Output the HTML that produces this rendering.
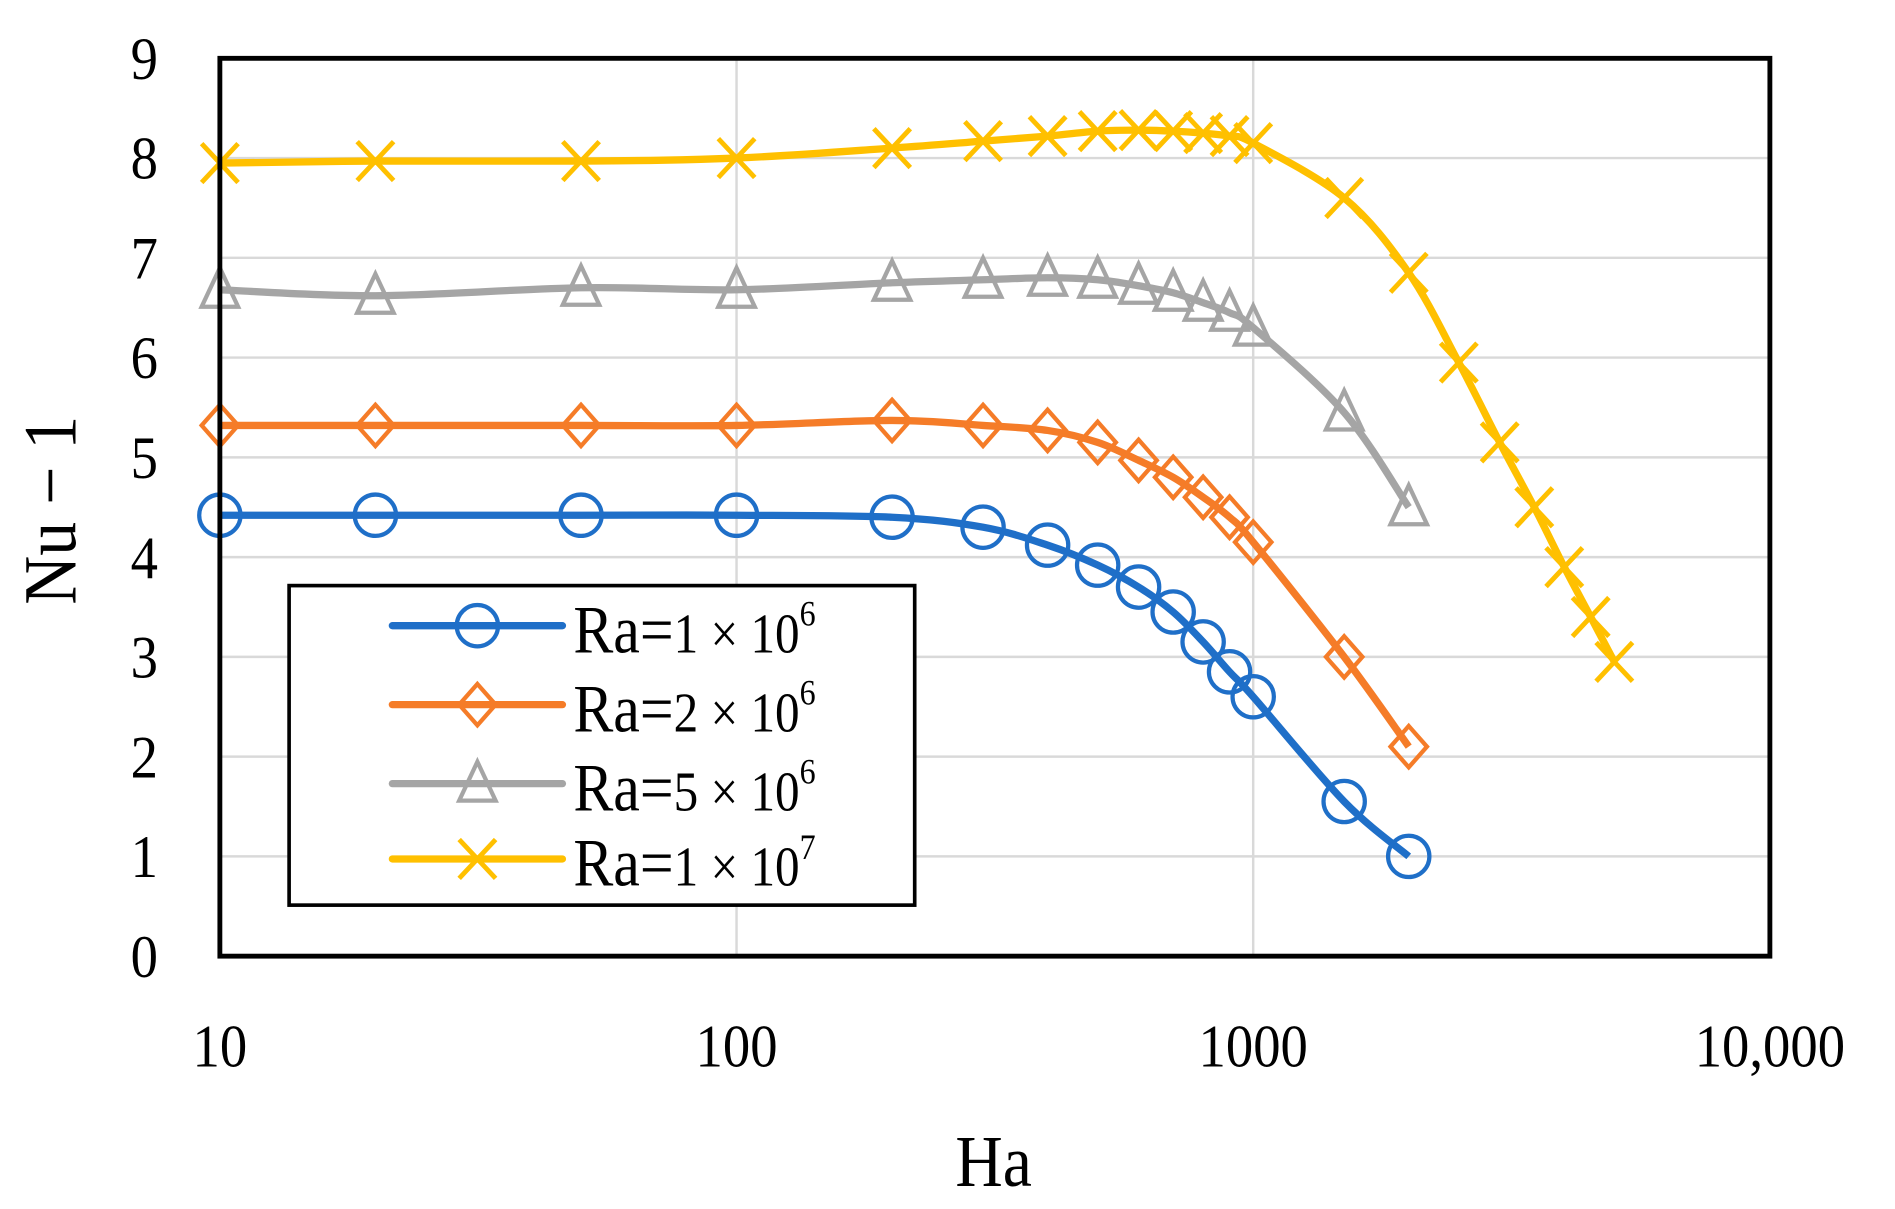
<!DOCTYPE html>
<html><head><style>html,body{margin:0;padding:0;background:#fff;overflow:hidden}</style></head>
<body>
<svg id="s" xmlns="http://www.w3.org/2000/svg" width="1895" height="1204" viewBox="0 0 1560 991" preserveAspectRatio="none" font-family="Liberation Serif, serif">
<rect width="1560" height="991" fill="#fff"/>
<g id="grid" stroke="#d9d9d9" stroke-width="2"></g>
<g id="ser"></g>
<rect x="181" y="48" width="1276" height="739" fill="none" stroke="#000" stroke-width="4"/>
<g id="lab" font-size="50" fill="#000"></g>
<text transform="translate(818,976) scale(0.9,1)" font-size="60" text-anchor="middle">Ha</text>
<text transform="translate(62,420) rotate(-90) scale(0.9,1)" font-size="62" text-anchor="middle">Nu − 1</text>
<g id="leg"></g>
</svg>
<script>
var NS="http://www.w3.org/2000/svg";
function el(p,t,a,txt){var e=document.createElementNS(NS,t);for(var k in a)e.setAttribute(k,a[k]);if(txt!=null)e.textContent=txt;p.appendChild(e);return e;}
var L=181,R=1457,T=48,B=787;
function X(v){return L+(Math.log10(v)-1)*425.33;}
function Y(v){return B-v*(B-T)/9;}
var g=document.getElementById('grid'),lab=document.getElementById('lab');
for(var i=0;i<=9;i++){if(i>0&&i<9)el(g,'line',{x1:L,x2:R,y1:Y(i),y2:Y(i)});el(lab,'text',{transform:'translate(130,'+(Y(i)+17)+') scale(0.9,1)','text-anchor':'end'},i);}
[100,1000].forEach(function(v){el(g,'line',{x1:X(v),x2:X(v),y1:T,y2:B});});
[[10,'10'],[100,'100'],[1000,'1000'],[10000,'10,000']].forEach(function(a){el(lab,'text',{transform:'translate('+X(a[0])+',878) scale(0.9,1)','text-anchor':'middle'},a[1]);});
var xs=[10,20,50,100,200,300,400,500,600,700,800,900,1000,1500,2000];
var S=[
 {c:'#1f6fc8',m:'o',x:xs,y:[4.42,4.42,4.42,4.42,4.4,4.3,4.12,3.92,3.7,3.45,3.15,2.85,2.6,1.55,1.0]},
 {c:'#f57c28',m:'d',x:xs,y:[5.32,5.32,5.32,5.32,5.37,5.32,5.27,5.15,4.97,4.8,4.6,4.4,4.15,3.0,2.1]},
 {c:'#a5a5a5',m:'t',x:xs,y:[6.68,6.62,6.7,6.68,6.75,6.78,6.8,6.78,6.72,6.65,6.55,6.45,6.3,5.45,4.5]},
 {c:'#ffc000',m:'x',x:xs.concat([2500,3000,3500,4000,4500,5000]),y:[7.95,7.97,7.97,8.0,8.1,8.17,8.22,8.27,8.28,8.27,8.25,8.22,8.15,7.6,6.85,5.95,5.15,4.5,3.9,3.4,2.95]}];
var sg=document.getElementById('ser');
function marker(p,m,x,y,c){
 if(m=='o')el(p,'circle',{cx:x,cy:y,r:17,fill:'none',stroke:c,'stroke-width':3.5});
 else if(m=='d')el(p,'polygon',{points:(x)+','+(y-17)+' '+(x+15)+','+y+' '+x+','+(y+17)+' '+(x-15)+','+y,fill:'none',stroke:c,'stroke-width':3.5});
 else if(m=='t')el(p,'polygon',{points:x+','+(y-18)+' '+(x+15)+','+(y+14)+' '+(x-15)+','+(y+14),fill:'none',stroke:c,'stroke-width':3.5});
 else {el(p,'path',{d:'M'+(x-15)+','+(y-16)+'L'+(x+15)+','+(y+16)+'M'+(x+15)+','+(y-16)+'L'+(x-15)+','+(y+16),stroke:c,'stroke-width':4,fill:'none'});}
}
S.forEach(function(s){
 var P=s.x.map(function(v,i){return [X(v),Y(s.y[i])];});
 var d='M'+P[0][0]+','+P[0][1];
 for(var i=0;i<P.length-1;i++){var p0=P[Math.max(i-1,0)],p1=P[i],p2=P[i+1],p3=P[Math.min(i+2,P.length-1)];
  var t=0.5/3;d+='C'+(p1[0]+(p2[0]-p0[0])*t)+','+(p1[1]+(p2[1]-p0[1])*t)+' '+(p2[0]-(p3[0]-p1[0])*t)+','+(p2[1]-(p3[1]-p1[1])*t)+' '+p2[0]+','+p2[1];}
 el(sg,'path',{d:d,fill:'none',stroke:s.c,'stroke-width':6,'stroke-linejoin':'round'});
 P.forEach(function(p){marker(sg,s.m,p[0],p[1],s.c);});
});
var lg=document.getElementById('leg');
el(lg,'rect',{x:238,y:482,width:515,height:263,fill:'#fff',stroke:'#000',"stroke-width":3});
var names=[['1','6'],['2','6'],['5','6'],['1','7']],ly=[515,580,645,707];
S.forEach(function(s,i){
 el(lg,'line',{x1:323,x2:463,y1:ly[i],y2:ly[i],stroke:s.c,'stroke-width':6,'stroke-linecap':'round'});
 marker(lg,s.m,393,ly[i],s.c);
 var t=el(lg,'text',{transform:'translate(472,'+(ly[i]+22)+') scale(0.88,1)','font-size':56});
 el(t,'tspan',{},'Ra=');el(t,'tspan',{'font-size':46},names[i][0]+' × 10');el(t,'tspan',{'font-size':30,dy:-22},names[i][1]);
});
</script>
</body></html>
